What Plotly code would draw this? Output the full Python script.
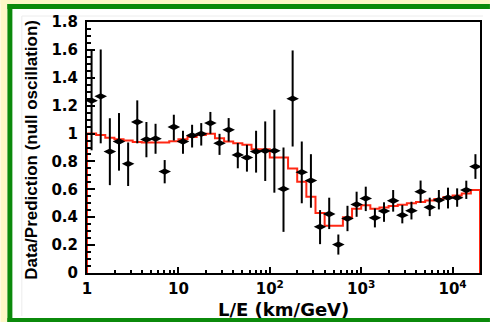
import numpy as np
import plotly.graph_objects as go

# ---- data ----
# log10(L/E) bin edges: 43 bins of 0.1 decade from 1 to 10^4.3 km/GeV
log_bin_edges = np.round(np.arange(0, 44) * 0.1, 2)

ratio = [1.236, 1.267, 0.871, 0.943, 0.783, 1.083, 0.958, 0.963, 0.727, 1.047,
         0.943, 0.986, 0.998, 1.075, 0.931, 1.027, 0.847, 0.828, 0.871, 0.876,
         0.876, 0.603, 1.250, 0.723, 0.663, 0.331, 0.423, 0.204, 0.391, 0.492,
         0.535, 0.396, 0.444, 0.518, 0.415, 0.447, 0.583, 0.471, 0.523, 0.540,
         0.540, 0.595, 0.763]
ratio_hi = [1.600, 1.603, 1.110, 1.147, 0.936, 1.238, 1.083, 1.070, 0.810, 1.135,
            1.020, 1.063, 1.075, 1.155, 0.998, 1.111, 0.932, 0.919, 1.020, 1.087,
            1.171, 0.900, 1.596, 0.943, 0.852, 0.451, 0.540, 0.276, 0.482, 0.583,
            0.619, 0.463, 0.507, 0.595, 0.487, 0.511, 0.663, 0.540, 0.595, 0.612,
            0.607, 0.662, 0.852]
ratio_lo = [0.880, 0.930, 0.630, 0.734, 0.624, 0.930, 0.830, 0.855, 0.643, 0.950,
            0.855, 0.900, 0.914, 0.998, 0.847, 0.943, 0.751, 0.727, 0.720, 0.660,
            0.576, 0.295, 0.907, 0.500, 0.468, 0.207, 0.315, 0.132, 0.300, 0.403,
            0.444, 0.327, 0.367, 0.440, 0.356, 0.384, 0.504, 0.408, 0.456, 0.463,
            0.475, 0.531, 0.675]
# expected ratio for oscillation best fit (red histogram)
expected = [1.000, 0.990, 0.970, 0.960, 0.950, 0.940, 0.935, 0.935, 0.935, 0.945,
            0.960, 0.975, 0.990, 0.998, 0.967, 0.943, 0.930, 0.919, 0.888, 0.888,
            0.828, 0.828, 0.750, 0.655, 0.547, 0.430, 0.338, 0.338, 0.400, 0.460,
            0.485, 0.460, 0.470, 0.480, 0.490, 0.500, 0.510, 0.520, 0.530, 0.545,
            0.555, 0.570, 0.595]

x_tick_vals = [1, 10, 100, 1000, 10000]
x_tick_text = ["1", "10", "10<sup>2</sup>", "10<sup>3</sup>", "10<sup>4</sup>"]
x_title = "L/E (km/GeV)"
y_title = "Data/Prediction (null oscillation)"

# ---- derived ----
edges = 10 ** log_bin_edges
centers = 10 ** ((log_bin_edges[:-1] + log_bin_edges[1:]) / 2)
ratio_a = np.array(ratio)
err_plus = np.array(ratio_hi) - ratio_a
err_minus = ratio_a - np.array(ratio_lo)

hist_x = [edges[0]] + list(edges[:-1]) + [edges[-1], edges[-1]]
hist_y = [0] + list(expected) + [expected[-1], 0]

minor_vals = [d * 10 ** k for k in range(0, 5) for d in range(2, 10) if d * 10 ** k < edges[-1]]

W, H = 492, 322
L, R, T, B = 87, 10, 22, 49
pw, ph = W - L - R, H - T - B


def px(xp):
    return (xp - L) / pw


def py(yp):
    return (H - B - yp) / ph


GREEN = "#0b8a0b"
YELLOW = "#fdf7c6"

fig = go.Figure()
fig.add_trace(go.Scatter(
    x=hist_x, y=hist_y, mode="lines", line_shape="hv",
    line=dict(color="rgb(255,40,20)", width=2), hoverinfo="skip", showlegend=False))
fig.add_trace(go.Scatter(
    x=centers, y=ratio, mode="markers",
    marker=dict(symbol="diamond-wide", size=9, color="black"),
    error_y=dict(type="data", symmetric=False, array=err_plus, arrayminus=err_minus,
                 color="black", thickness=2, width=0),
    showlegend=False))

tick_font = dict(family="DejaVu Sans", size=15, color="black", weight="bold")

fig.update_xaxes(
    type="log", range=[log_bin_edges[0], log_bin_edges[-1]],
    tickmode="array", tickvals=x_tick_vals, ticktext=x_tick_text,
    ticks="inside", ticklen=6, tickwidth=1.5, tickcolor="black",
    minor=dict(tickmode="array", tickvals=minor_vals, ticks="inside", ticklen=3,
               tickwidth=1.5, tickcolor="black"),
    showline=True, linecolor="black", linewidth=2, mirror=True,
    showgrid=False, zeroline=False, tickfont=tick_font, ticklabelstandoff=1)
fig.update_yaxes(
    range=[0, 1.8], dtick=0.2, tick0=0,
    ticks="inside", ticklen=8, tickwidth=1.5, tickcolor="black",
    minor=dict(dtick=0.05, ticks="inside", ticklen=4, tickwidth=1.5, tickcolor="black"),
    showline=True, linecolor="black", linewidth=2, mirror=True,
    showgrid=False, zeroline=False, tickfont=tick_font, ticklabelstandoff=4)

fig.update_layout(
    width=W, height=H,
    margin=dict(l=L, r=R, t=T, b=B, pad=0),
    paper_bgcolor="white", plot_bgcolor="white",
    shapes=[
        # pale yellow surround (left and top strips)
        dict(type="rect", xref="paper", yref="paper", layer="below",
             x0=px(0), x1=px(7), y0=py(H), y1=py(0),
             line=dict(width=0), fillcolor=YELLOW),
        dict(type="rect", xref="paper", yref="paper", layer="below",
             x0=px(0), x1=px(W), y0=py(4), y1=py(0),
             line=dict(width=0), fillcolor=YELLOW),
        # green frame: left, top, bottom
        dict(type="rect", xref="paper", yref="paper", layer="below",
             x0=px(7), x1=px(12), y0=py(H), y1=py(4),
             line=dict(width=0), fillcolor=GREEN),
        dict(type="rect", xref="paper", yref="paper", layer="below",
             x0=px(7), x1=px(W), y0=py(9), y1=py(4),
             line=dict(width=0), fillcolor=GREEN),
        dict(type="rect", xref="paper", yref="paper", layer="below",
             x0=px(7), x1=px(W), y0=py(H), y1=py(318),
             line=dict(width=0), fillcolor=GREEN),
        # faint inner border
        dict(type="line", xref="paper", yref="paper", layer="below",
             x0=px(21.5), x1=px(485), y0=py(16), y1=py(16),
             line=dict(color="#ececec", width=1)),
        dict(type="line", xref="paper", yref="paper", layer="below",
             x0=px(21.5), x1=px(21.5), y0=py(316), y1=py(16),
             line=dict(color="#ececec", width=1)),
    ],
    annotations=[
        dict(text=x_title, xref="paper", yref="paper", x=px(285), y=py(309),
             xanchor="center", yanchor="middle", showarrow=False,
             font=dict(family="DejaVu Sans", size=18, color="black", weight="bold")),
        dict(text=y_title, xref="paper", yref="paper", x=px(31), y=py(149.5),
             xanchor="center", yanchor="middle", showarrow=False, textangle=-90,
             font=dict(family="Liberation Sans", size=17, color="black", weight="bold")),
    ],
)

fig.write_html("out.html")
